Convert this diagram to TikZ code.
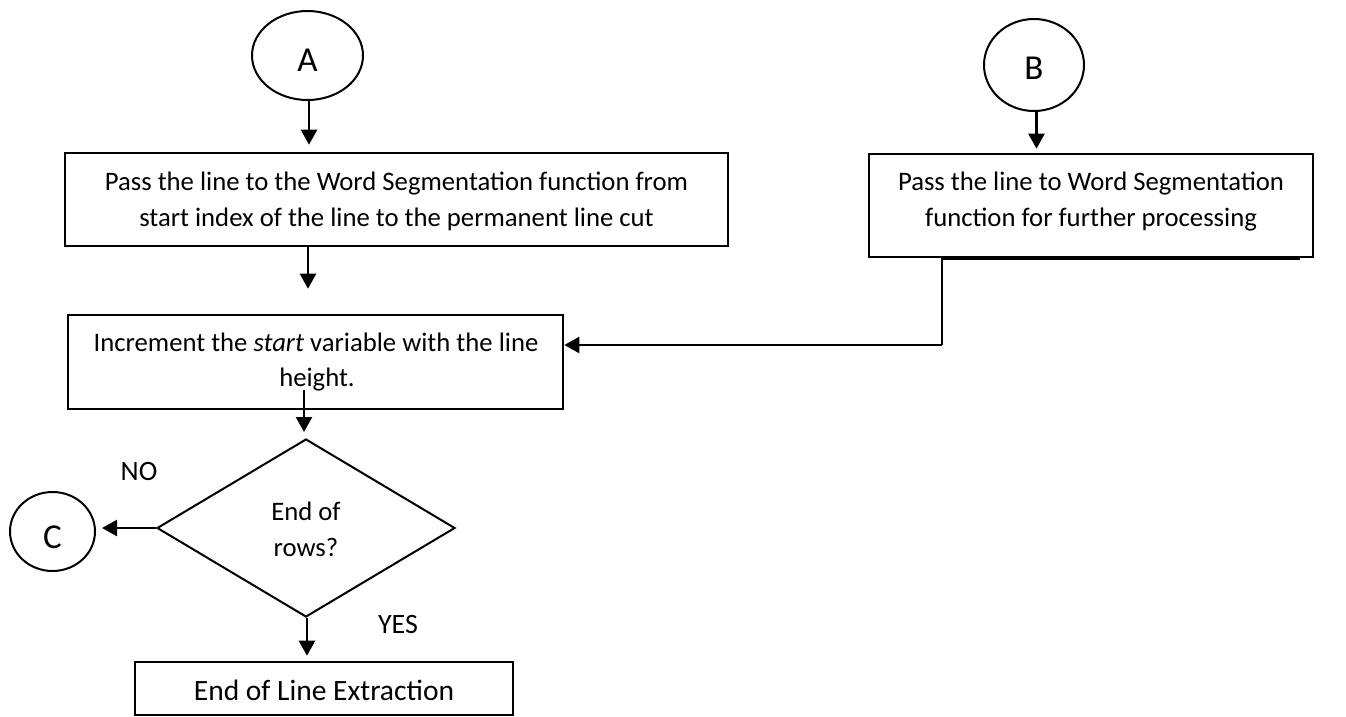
\documentclass[tikz,border=0pt]{standalone}
\usepackage{fontspec}
\setmainfont{Carlito}
\usetikzlibrary{arrows.meta,shapes.geometric}
\begin{document}
\begin{tikzpicture}[x=1pt,y=-1pt,
  box/.style={draw, line width=2.6pt, rectangle, inner sep=0},
  ell/.style={draw, ellipse, line width=2pt, inner sep=0, text depth=0pt, font=\fontsize{35}{40}\selectfont},
  txt/.style={inner sep=0, anchor=base, font=\fontsize{26.7}{30}\selectfont},
  lbl/.style={inner sep=0, anchor=base, font=\fontsize{28}{30}\selectfont},
  arr/.style={line width=2.4pt, -{Triangle[length=15pt,width=16pt]}},
  conn/.style={line width=2.4pt},
]
\useasboundingbox (0,0) rectangle (1346,716);

% connectors circles
\node[ell, text height=32.5pt, minimum width=111pt, minimum height=89pt] (A) at (307.5,55.5) {A};
\node[ell, text height=28.5pt, minimum width=100pt, minimum height=92pt] (B) at (1034,65) {B};
\node[ell, text height=34pt, minimum width=85pt, minimum height=79pt] (C) at (52.5,531.5) {C};

% boxes
\node[box, minimum width=663pt, minimum height=93pt] (b1) at (396.5,199.5) {};
\node[txt] (b1l1) at (396.5,190) {Pass the line to the Word Segmentation function from};
\node[txt] (b1l2) at (396.5,226) {start index of the line to the permanent line cut};

\node[box, minimum width=495pt, minimum height=94pt] (b2) at (315.5,362) {};
\node[txt] (b2l1) at (316,351.5) {Increment the \textit{start} variable with the line};
\node[txt] (b2l2) at (317,386.5) {height.};

\node[box, minimum width=444pt, minimum height=103pt] (b3) at (1091,205.5) {};
\node[txt] (b3l1) at (1091,190) {Pass the line to Word Segmentation};
\node[txt] (b3l2) at (1091,226.5) {function for further processing};

\node[box, minimum width=378pt, minimum height=53pt] (b4) at (324,688.5) {};
\node[txt, font=\fontsize{29.5}{34}\selectfont] (b4l1) at (324,700) {End of Line Extraction};

% decision
\node[diamond, draw, line width=2pt, inner sep=0, minimum width=298pt, minimum height=178pt] (d) at (306,528) {};
\node[txt] (dl1) at (306,520.5) {End of};
\node[txt] (dl2) at (306,556) {rows?};

\node[lbl] (no) at (139,480.5) {NO};
\node[lbl] (yes) at (398,633) {YES};

% arrows
\draw[arr, shorten >=7pt] ([xshift=1.5pt]A.south) -- ([xshift=1.5pt]A.south |- b1.north);
\draw[arr, shorten >=25pt] ([xshift=-88.5pt]b1.south) -- ([xshift=-88.5pt]b1.south |- b2.north);
\draw[arr, shorten >=4pt] ([xshift=2.5pt]B.south) -- ([xshift=2.5pt]B.south |- b3.north);
\coordinate (bstart) at (1300,259);
\coordinate (bcorner) at (942,345);
\draw[conn] (bstart) -| (bcorner);
\draw[arr] (bcorner) -- ([yshift=17pt]b2.east);
\coordinate (h) at (304,390);
\draw[arr, shorten >=6pt] (h) -- (h |- d.north);
\draw[arr, shorten >=6pt] (d.west) -- (d.west -| C.east);
\draw[arr, shorten >=5pt] ([xshift=1pt]d.south) -- ([xshift=1pt]d.south |- b4.north);
\end{tikzpicture}
\end{document}
